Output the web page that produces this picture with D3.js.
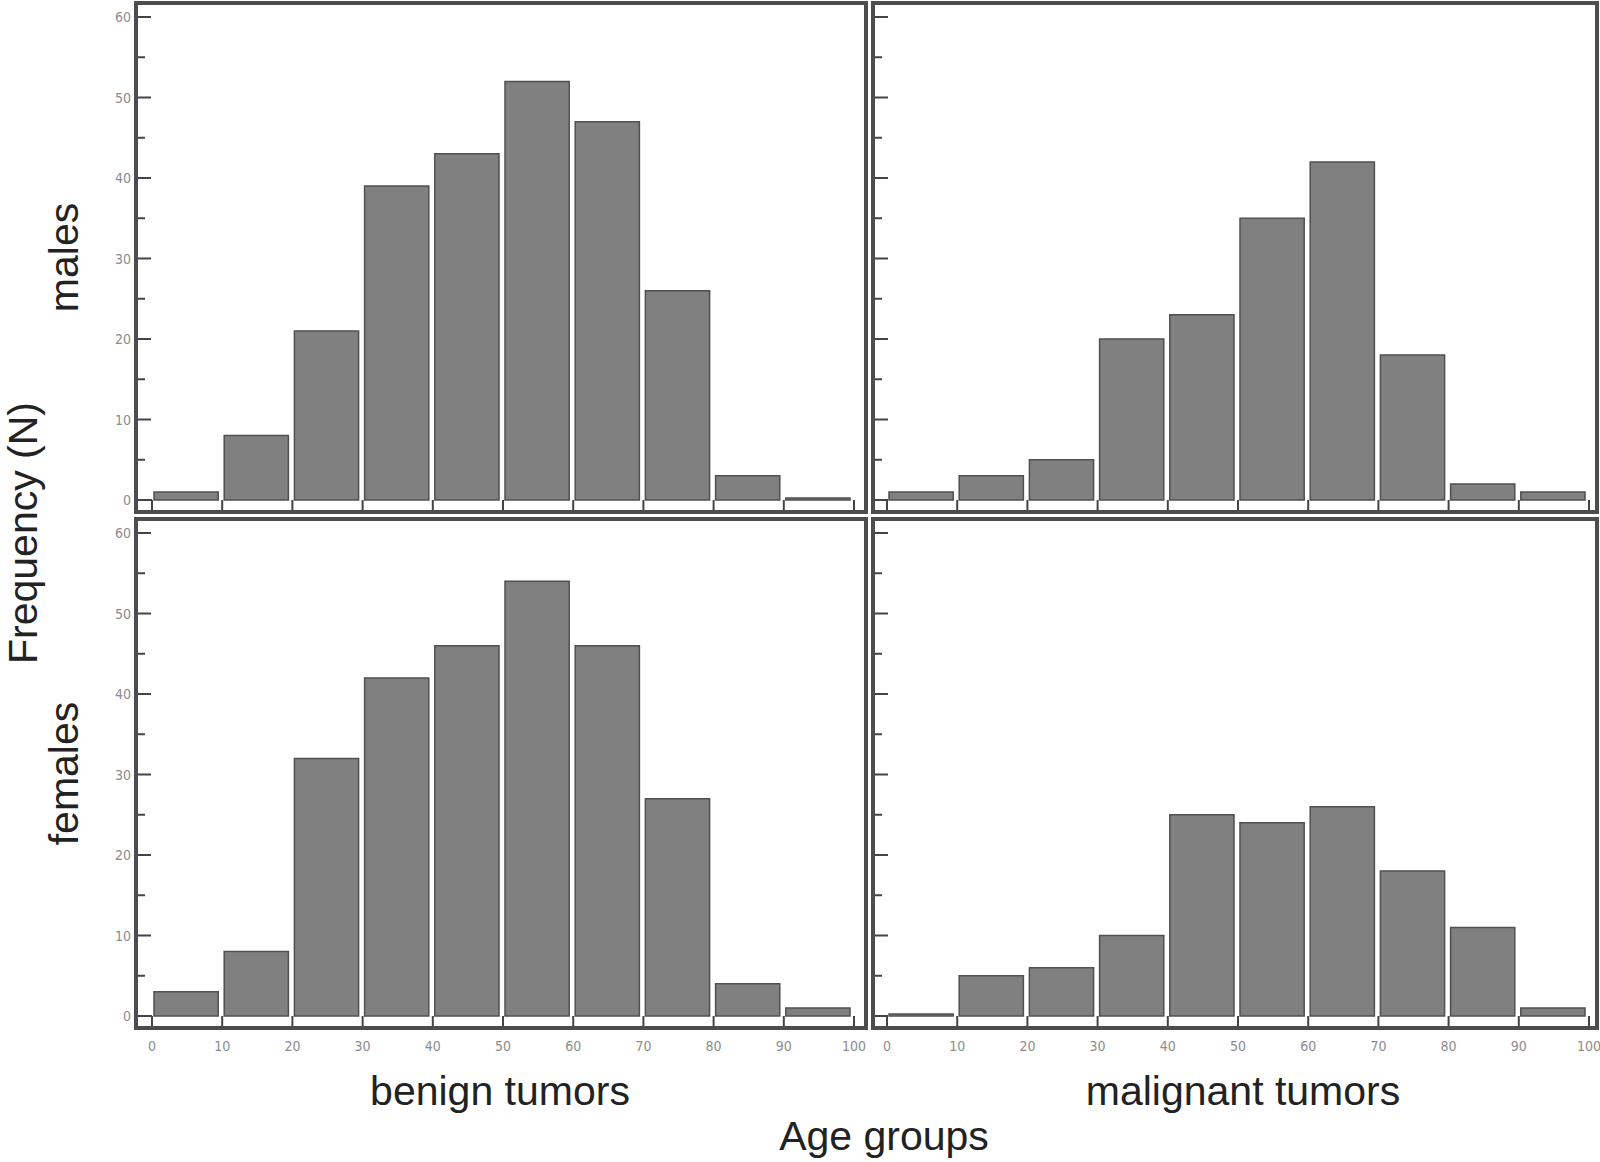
<!DOCTYPE html>
<html>
<head>
<meta charset="utf-8">
<script src="https://cdn.jsdelivr.net/npm/d3@7"></script>
<style>
  body { margin: 0; background: #fff; }
  .tick-label { font-family: "Liberation Sans Narrow", "DejaVu Sans Condensed", sans-serif; font-size: 14px; fill: #8c8c8c; }
  .big { font-family: "Liberation Sans", Arial, sans-serif; font-size: 41px; fill: #222; }
</style>
</head>
<body>
<svg id="chart"></svg>
<script>
// age bins (lower edges) and counts
var bins = [0, 10, 20, 30, 40, 50, 60, 70, 80, 90];
var maleBenign     = [1, 8, 21, 39, 43, 52, 47, 26, 3, 0];
var maleMalignant  = [1, 3, 5, 20, 23, 35, 42, 18, 2, 1];
var femaleBenign   = [3, 8, 32, 42, 46, 54, 46, 27, 4, 1];
var femaleMalignant= [0, 5, 6, 10, 25, 24, 26, 18, 11, 1];
var xTicks = [0, 10, 20, 30, 40, 50, 60, 70, 80, 90, 100];
var yTicks = [0, 10, 20, 30, 40, 50, 60];
var rowNames = ["males", "females"];
var colNames = ["benign tumors", "malignant tumors"];

var svg = d3.select("#chart").attr("width", 1600).attr("height", 1162);

// panel frames
var cols = [
    {left: 136, right: 866, x0: 152, x1: 854},
    {left: 873, right: 1597, x0: 887, x1: 1589}
];
var rows = [
    {top: 3, bottom: 512, y60: 17, y0: 500},
    {top: 519, bottom: 1028, y60: 533, y0: 1016}
];
var panels = [
    {r: 0, c: 0, data: maleBenign},
    {r: 0, c: 1, data: maleMalignant},
    {r: 1, c: 0, data: femaleBenign},
    {r: 1, c: 1, data: femaleMalignant}
];

panels.forEach(function(p) {
    var col = cols[p.c], row = rows[p.r];
    var x = d3.scaleLinear().domain([0, 100]).range([col.x0, col.x1]);
    var y = d3.scaleLinear().domain([0, 60]).range([row.y0, row.y60]);
    var g = svg.append("g");

    // bars drawn as paths so empty bins still show their outline
    g.selectAll(".bar")
        .data(p.data)
        .enter().append("path")
        .attr("class", "bar")
        .attr("d", function(d, i) {
            var a = x(bins[i]) + 2, b = x(bins[i] + 10) - 4;
            var top = Math.min(y(d), y(0) - 2), bot = y(0);
            return "M" + a + "," + bot + "V" + top + "H" + b + "V" + bot + "Z";
        })
        .attr("fill", "#808080")
        .attr("stroke", "#505050")
        .attr("stroke-width", 1.5);

    // bin dividers below zero line
    g.selectAll(".div")
        .data(xTicks)
        .enter().append("line")
        .attr("x1", function(d) { return x(d); })
        .attr("x2", function(d) { return x(d); })
        .attr("y1", y(0))
        .attr("y2", row.bottom)
        .attr("stroke", "#444")
        .attr("stroke-width", 2);

    g.append("line")
        .attr("x1", col.left).attr("x2", x(0))
        .attr("y1", y(0)).attr("y2", y(0))
        .attr("stroke", "#444").attr("stroke-width", 2);

    // y ticks: majors every 10, minors in between
    var minor = d3.range(5, 60, 10);
    g.selectAll(".ytick")
        .data(yTicks)
        .enter().append("line")
        .attr("x1", col.left).attr("x2", col.left + 15)
        .attr("y1", function(d) { return y(d); })
        .attr("y2", function(d) { return y(d); })
        .attr("stroke", "#444").attr("stroke-width", 2);
    g.selectAll(".ymin")
        .data(minor)
        .enter().append("line")
        .attr("x1", col.left).attr("x2", col.left + 9)
        .attr("y1", function(d) { return y(d); })
        .attr("y2", function(d) { return y(d); })
        .attr("stroke", "#444").attr("stroke-width", 2);

    if (p.c == 0) {
        g.selectAll(".ylab")
            .data(yTicks)
            .enter().append("text")
            .attr("class", "tick-label")
            .attr("x", col.left - 5)
            .attr("y", function(d) { return y(d) + 5; })
            .attr("text-anchor", "end")
            .text(function(d) { return d; });
    }
    if (p.r == 1) {
        g.selectAll(".xlab")
            .data(xTicks)
            .enter().append("text")
            .attr("class", "tick-label")
            .attr("x", function(d) { return x(d); })
            .attr("y", 1051)
            .attr("text-anchor", "middle")
            .text(function(d) { return d; });
    }

    // frame
    g.append("rect")
        .attr("x", col.left).attr("y", row.top)
        .attr("width", col.right - col.left)
        .attr("height", row.bottom - row.top)
        .attr("fill", "none")
        .attr("stroke", "#4d4d4d")
        .attr("stroke-width", 4);
});

// labels
svg.append("text").attr("class", "big")
    .attr("transform", "translate(37,533) rotate(-90)")
    .attr("text-anchor", "middle")
    .text("Frequency (N)");

rowNames.forEach(function(name, i) {
    var row = rows[i];
    svg.append("text").attr("class", "big")
        .attr("transform", "translate(78," + ((row.top + row.bottom) / 2) + ") rotate(-90)")
        .attr("text-anchor", "middle")
        .text(name);
});

colNames.forEach(function(name, i) {
    var col = cols[i];
    svg.append("text").attr("class", "big")
        .attr("x", (col.left + col.right) / 2 + (i == 0 ? -1 : 8))
        .attr("y", 1105)
        .attr("text-anchor", "middle")
        .text(name);
});

svg.append("text").attr("class", "big")
    .attr("x", 884).attr("y", 1150)
    .attr("text-anchor", "middle")
    .text("Age groups");
</script>
</body>
</html>
